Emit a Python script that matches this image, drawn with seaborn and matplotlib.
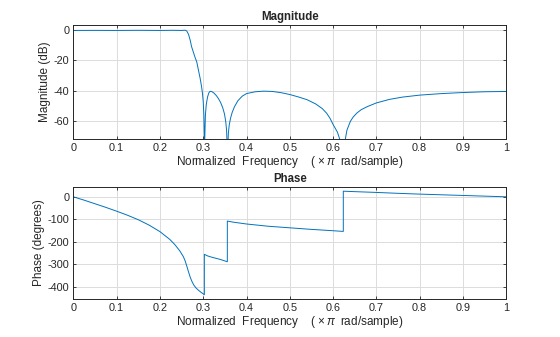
import matplotlib
matplotlib.use("Agg")
import matplotlib.pyplot as plt
import seaborn as sns
import pandas as pd

# ---- data ----
freq_mag = [0, 0.05, 0.1, 0.15, 0.2, 0.23, 0.25, 0.256, 0.259, 0.262, 0.266, 0.27, 0.273,
            0.277, 0.281, 0.285, 0.289, 0.293, 0.296, 0.298, 0.300, 0.3015, 0.3025,
            0.303, 0.3035, 0.305, 0.307, 0.31, 0.313, 0.316, 0.32, 0.325, 0.33, 0.335,
            0.34, 0.345, 0.349, 0.352, 0.354, 0.3555, 0.356, 0.3565, 0.358, 0.36, 0.363,
            0.367, 0.372, 0.38, 0.39, 0.40, 0.42, 0.44, 0.46, 0.48, 0.50, 0.52, 0.54,
            0.56, 0.575, 0.585, 0.593, 0.60, 0.61, 0.617, 0.621, 0.623, 0.6236, 0.6245, 0.627,
            0.632, 0.64, 0.6467, 0.655, 0.665, 0.68, 0.70, 0.73, 0.76, 0.80, 0.85, 0.90, 0.95, 1.0]
mag_db = [-0.5, -0.45, -0.5, -0.4, -0.5, -0.4, -0.5, -0.35, -0.4, -0.9, -3, -7, -11,
          -14.5, -18, -21, -26.5, -32, -37, -41, -47, -56, -70,
          -100, -72, -56, -49, -44, -41.3, -40.3, -40.5, -41.5, -43, -45,
          -47.5, -51, -55, -60, -66, -78, -100, -80, -68, -62.5, -58,
          -54, -50.5, -46.5, -43.5, -41.8, -40.6, -40.2, -40.4, -41.2, -42.4, -44, -45.8,
          -48.6, -51.6, -54.6, -58, -62, -67, -73, -81, -92, -110, -88, -73.6,
          -65.7, -59.9, -57, -54.5, -52.3, -50.2, -47.9, -45.6, -44.1, -42.8, -41.8, -41.1, -40.6, -40.4]

freq_phase = [0, 0.025, 0.05, 0.075, 0.1, 0.125, 0.15, 0.175, 0.2, 0.223, 0.235, 0.246,
              0.254, 0.258, 0.262, 0.266, 0.270, 0.274, 0.278, 0.283, 0.289, 0.295,
              0.300, 0.3026, 0.3026, 0.31, 0.32, 0.338, 0.3557, 0.3557, 0.37, 0.40,
              0.45, 0.50, 0.55, 0.60, 0.6236, 0.6236, 0.65, 0.70, 0.75, 0.80, 0.85,
              0.90, 0.95, 1.0]
phase_deg = [0, -15, -31, -47, -64, -82, -102, -126, -155, -190, -214, -241,
             -266, -284, -308, -334, -358, -377, -392, -405, -416, -425,
             -432, -436, -256, -263, -269, -278, -289, -108, -113, -121,
             -131, -138, -145, -151, -154, 25, 23, 19.5, 15.5, 12, 9,
             6, 3, 0]

x_ticks = [0, 0.1, 0.2, 0.3, 0.4, 0.5, 0.6, 0.7, 0.8, 0.9, 1]
x_ticklabels = ["0", "0.1", "0.2", "0.3", "0.4", "0.5", "0.6", "0.7", "0.8", "0.9", "1"]
mag_yticks = [0, -20, -40, -60]
phase_yticks = [0, -100, -200, -300, -400]

xlabel = r"Normalized  Frequency    ( $\times\,\pi\;$ rad/sample)"

# ---- style ----
sns.set_style("ticks")
plt.rcParams["font.family"] = ["Liberation Sans", "DejaVu Sans"]
plt.rcParams["axes.unicode_minus"] = False
plt.rcParams["mathtext.fontset"] = "custom"
plt.rcParams["mathtext.rm"] = "Liberation Sans"
plt.rcParams["mathtext.it"] = "Liberation Sans:italic"

LINE = "#0072BD"
GRID = "#DCDCDC"
DARK = "#262626"

fig = plt.figure(figsize=(5.6, 3.37), dpi=100)
ax1 = fig.add_axes([0.131, 0.5875, 0.773, 0.3385])
ax2 = fig.add_axes([0.131, 0.112, 0.773, 0.334])

df_mag = pd.DataFrame({"f": freq_mag, "m": mag_db})
df_ph = pd.DataFrame({"f": freq_phase, "p": phase_deg})

sns.lineplot(data=df_mag, x="f", y="m", ax=ax1, color=LINE, linewidth=0.7,
             estimator=None, sort=False)
sns.lineplot(data=df_ph, x="f", y="p", ax=ax2, color=LINE, linewidth=0.7,
             estimator=None, sort=False)

def style(ax, yticks, ylim, title, ylabel):
    ax.set_xlim(0, 1)
    ax.set_ylim(*ylim)
    ax.set_xticks(x_ticks)
    ax.set_xticklabels(x_ticklabels)
    ax.set_yticks(yticks)
    ax.grid(True, color=GRID, linewidth=0.7)
    ax.set_axisbelow(True)
    for s in ax.spines.values():
        s.set_visible(True)
        s.set_color(DARK)
        s.set_linewidth(0.7)
    ax.tick_params(direction="in", length=2.5, width=0.6, top=True, right=True,
                   labelsize=7.8, colors=DARK, pad=3)
    ax.set_title(title, fontsize=8.3, fontweight="bold", color=DARK, pad=3.5)
    ax.set_ylabel(ylabel, fontsize=8.5, color=DARK, labelpad=2)
    ax.set_xlabel(xlabel, fontsize=8.5, color=DARK, labelpad=0.5)

style(ax1, mag_yticks, (-71.5, 3.1), "Magnitude", "Magnitude (dB)")
style(ax2, phase_yticks, (-456, 45), "Phase", "Phase (degrees)")

fig.savefig("out.png", dpi=100, facecolor="white")
